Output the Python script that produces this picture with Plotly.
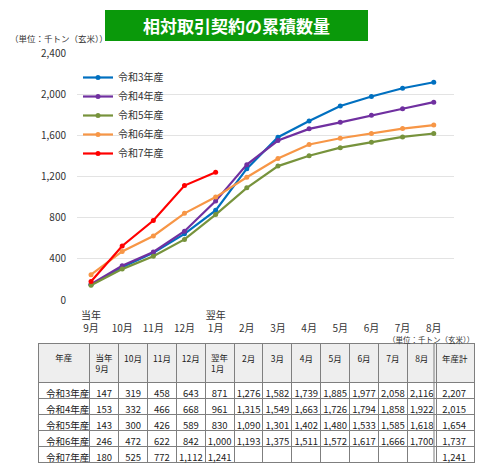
import plotly.graph_objects as go

# 月（当年9月〜翌年8月）
months = ["当年<br>9月", " <br>10月", " <br>11月", " <br>12月", "翌年<br>1月", " <br>2月",
          " <br>3月", " <br>4月", " <br>5月", " <br>6月", " <br>7月", " <br>8月"]
table_months = ["当年<br>9月", "<br>10月", "<br>11月", "<br>12月", "翌年<br>1月", "<br>2月",
                "<br>3月", "<br>4月", "<br>5月", "<br>6月", "<br>7月", "<br>8月"]
years = ["令和3年産", "令和4年産", "令和5年産", "令和6年産", "令和7年産"]

r3 = [147, 319, 458, 643, 871, 1276, 1582, 1739, 1885, 1977, 2058, 2116]
r4 = [153, 332, 466, 668, 961, 1315, 1549, 1663, 1726, 1794, 1858, 1922]
r5 = [143, 300, 426, 589, 830, 1090, 1301, 1402, 1480, 1533, 1585, 1618]
r6 = [246, 472, 622, 842, 1000, 1193, 1375, 1511, 1572, 1617, 1666, 1700]
r7 = [180, 525, 772, 1112, 1241]
totals = [2207, 2015, 1654, 1737, 1241]

series = [r3, r4, r5, r6, r7]
colors = ["#0070C0", "#7030A0", "#77933C", "#F79646", "#FF0000"]

FONT = "Noto Sans CJK JP"
# the page adds an 8px margin, so the figure is 8px smaller each way
OFF = 8
W, H = 500 - OFF, 464 - OFF

def px_x(p):
    return (p - OFF) / W

def px_y(p):
    return 1 - (p - OFF) / H

fig = go.Figure()
for name, vals, c in zip(years, series, colors):
    fig.add_trace(go.Scatter(
        x=months[:len(vals)], y=vals, name=name, mode="lines+markers",
        line=dict(color=c, width=2.2), marker=dict(size=5, color=c)))

# 表
cells = [years]
for i in range(len(months)):
    col = []
    for s in series:
        col.append(f"{s[i]:,}" if i < len(s) else "")
    cells.append(col)
cells.append([f"{t:,}" for t in totals])

fig.add_trace(go.Table(
    domain=dict(x=[px_x(38), px_x(474)], y=[0, px_y(343)]),
    columnwidth=[52] + [29]*12 + [38],
    header=dict(values=["<br>年産"] + table_months + ["<br>年産計"],
                fill_color="#eeeeee", line_color="#7f7f7f", height=34,
                align="center",
                font=dict(family=FONT, size=8.5, color="#222")),
    cells=dict(values=cells, fill_color="white", line_color="#7f7f7f", height=16,
               align=["left"] + ["center"]*12 + ["right"],
               font=dict(family=FONT, size=9.5, color="#222"))))

fig.update_layout(
    template="none",
    width=W, height=H, margin=dict(l=0, r=0, t=0, b=0, pad=0, autoexpand=False),
    paper_bgcolor="white", plot_bgcolor="white",
    font=dict(family=FONT, size=10, color="#333"),
    xaxis=dict(domain=[px_x(77), px_x(454)], range=[-0.45, 11.65], automargin=False,
               showgrid=False, zeroline=False, showline=False,
               ticks="outside", ticklen=6, tickcolor="rgba(0,0,0,0)",
               tickfont=dict(size=10, color="#333")),
    yaxis=dict(domain=[px_y(300), px_y(53)], range=[0, 2400], dtick=400, automargin=False,
               tickformat=",", gridcolor="#e3e3e3", gridwidth=1,
               zeroline=False, showline=False, ticks="outside", ticklen=8,
               tickcolor="rgba(0,0,0,0)",
               tickfont=dict(size=10, color="#333")),
    legend=dict(x=px_x(78), y=px_y(63), xanchor="left", yanchor="top",
                bgcolor="rgba(0,0,0,0)", font=dict(size=10, color="#333"),
                tracegroupgap=0, itemwidth=30),
    showlegend=True,
    shapes=[
        dict(type="rect", xref="paper", yref="paper",
             x0=px_x(105), x1=px_x(368), y0=px_y(41), y1=px_y(10),
             fillcolor="#0a990a", line=dict(width=0), layer="below"),
        dict(type="line", xref="paper", yref="paper",
             x0=px_x(434), x1=px_x(434), y0=px_y(343) - 120 / H, y1=px_y(343),
             line=dict(color="#7f7f7f", width=1), layer="above"),
    ],
    annotations=[
        dict(text="<b>相対取引契約の累積数量</b>", xref="paper", yref="paper",
             x=px_x(236), y=px_y(25.5), xanchor="center", yanchor="middle",
             showarrow=False, font=dict(size=17, color="white")),
        dict(text="（単位：千トン（玄米））", xref="paper", yref="paper",
             x=0, y=px_y(38), xanchor="left", yanchor="middle", showarrow=False,
             font=dict(size=8.5, color="#333")),
        dict(text="（単位：千トン（玄米））", xref="paper", yref="paper",
             x=px_x(476), y=px_y(339.5), xanchor="right", yanchor="middle", showarrow=False,
             font=dict(size=7.5, color="#333")),
    ],
)

fig.write_html("out.html")
